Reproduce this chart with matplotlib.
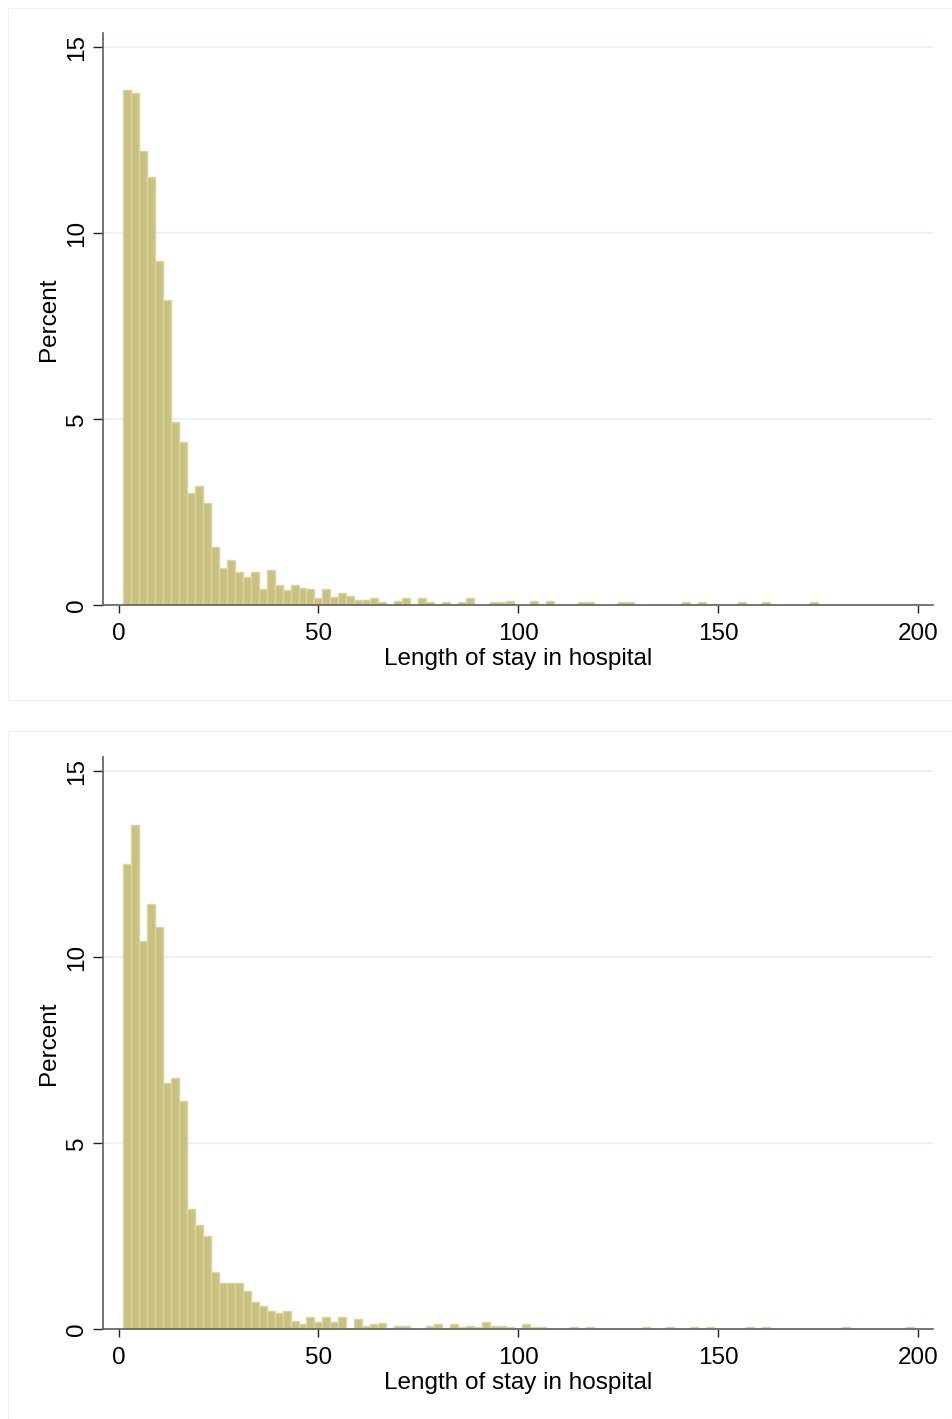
import numpy as np
import matplotlib
matplotlib.use("Agg")
import matplotlib.pyplot as plt

plt.rcParams['font.family'] = ['Liberation Sans', 'DejaVu Sans']

# Histogram bins: width 2 days, first bin starts at day 1
bin_start = 1
bin_width = 2

# Percent per bin, top panel
top_pct = [13.84, 13.78, 12.2, 11.51, 9.24, 8.2, 4.91, 4.39, 3.0, 3.2,
           2.74, 1.55, 0.99, 1.21, 0.88, 0.74, 0.88, 0.42, 0.94, 0.54,
           0.40, 0.54, 0.47, 0.42, 0.18, 0.42, 0.22, 0.31, 0.24, 0.13,
           0.13, 0.2, 0.07, 0, 0.1, 0.2, 0, 0.2, 0.07, 0,
           0.07, 0, 0.07, 0.2, 0, 0, 0.07, 0.07, 0.1, 0,
           0, 0.1, 0, 0.1, 0, 0, 0, 0.07, 0.07, 0,
           0, 0, 0.07, 0.07, 0, 0, 0, 0, 0, 0,
           0.07, 0, 0.07, 0, 0, 0, 0, 0.07, 0, 0,
           0.07, 0, 0, 0, 0, 0, 0.07]

# Percent per bin, bottom panel
bottom_pct = [12.49, 13.55, 10.43, 11.44, 10.8, 6.62, 6.76, 6.13, 3.23, 2.8,
              2.51, 1.54, 1.25, 1.25, 1.25, 1.02, 0.73, 0.62, 0.49, 0.42,
              0.49, 0.22, 0.13, 0.31, 0.2, 0.31, 0.18, 0.31, 0, 0.26,
              0.08, 0.13, 0.15, 0, 0.07, 0.07, 0, 0, 0.07, 0.14,
              0, 0.14, 0.05, 0.07, 0.05, 0.2, 0.07, 0.07, 0.05, 0,
              0.14, 0.06, 0.06, 0, 0, 0, 0.06, 0, 0.06, 0,
              0, 0, 0, 0, 0, 0.06, 0, 0, 0.06, 0,
              0, 0.06, 0, 0.06, 0, 0, 0, 0, 0.06, 0,
              0.06, 0, 0, 0, 0, 0, 0, 0, 0, 0,
              0.06, 0, 0, 0, 0, 0, 0, 0, 0.06]

x_ticks = [0, 50, 100, 150, 200]
y_ticks = [0, 5, 10, 15]
x_label = 'Length of stay in hospital'
y_label = 'Percent'

W, H = 953, 1419
fig = plt.figure(figsize=(W / 100, H / 100), dpi=100)
fig.patch.set_facecolor('white')

axis_col = '#5f5f5f'
grid_col = '#e8f0f2'
bar_fill = '#c9c17f'
bar_edge = '#dbd5a0'

# pixel boxes of the two plot regions (left, top, right, bottom)
boxes = [(103, 33, 933, 605), (103, 757, 933, 1329)]
# faint outlines of the two graph regions
regions = [(8, 8, 952, 700), (8, 731, 952, 1419)]

for (l, t, r, b), data in zip(boxes, [top_pct, bottom_pct]):
    ax = fig.add_axes([l / W, 1 - b / H, (r - l) / W, (b - t) / H])
    lefts = bin_start + bin_width * np.arange(len(data))
    ax.bar(lefts, data, width=bin_width, align='edge',
           color=bar_fill, edgecolor=bar_edge, linewidth=1.0, zorder=2)
    ax.set_xlim(-3.93, 203.8)
    ax.set_ylim(0, 15.38)
    ax.set_xticks(x_ticks)
    ax.set_yticks(y_ticks)
    ax.set_yticklabels([str(v) for v in y_ticks], rotation=90, va='center')
    for v in y_ticks[1:]:
        ax.axhline(v, xmin=0, xmax=1.0, color=grid_col, lw=1.2, zorder=1)
    ax.spines['top'].set_visible(False)
    ax.spines['right'].set_visible(False)
    for s in ['left', 'bottom']:
        ax.spines[s].set_color(axis_col)
        ax.spines[s].set_linewidth(1.2)
    ax.tick_params(axis='x', length=6, width=1.0, color='#222222',
                   labelsize=17.5, pad=7)
    ax.tick_params(axis='y', length=7, width=1.0, color='#222222',
                   labelsize=17.5, pad=4)
    ax.set_xlabel(x_label, fontsize=17.5, labelpad=2)
    ax.set_ylabel(y_label, fontsize=17.5, labelpad=4)

for (l, t, r, b) in regions:
    fig.patches.append(plt.Rectangle((l / W, 1 - b / H), (r - l) / W, (b - t) / H,
                                     transform=fig.transFigure, fill=False,
                                     edgecolor='#f0f0f0', lw=0.8))

fig.savefig('out.png', dpi=100)
